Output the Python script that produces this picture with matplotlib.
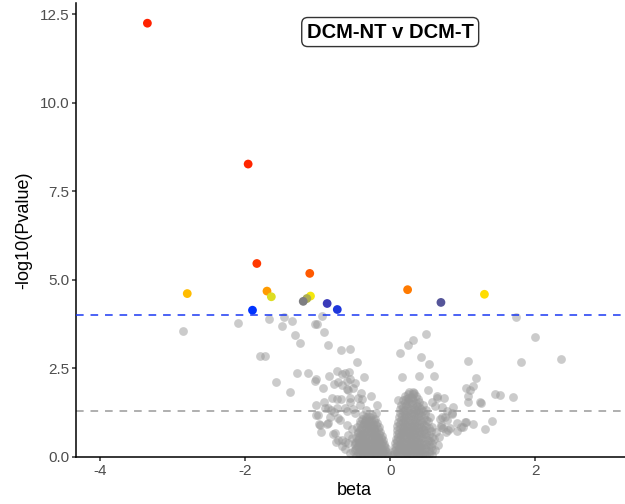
import numpy as np
import matplotlib
matplotlib.use("Agg")
import matplotlib.pyplot as plt
from matplotlib.colors import LinearSegmentedColormap

plt.rcParams['font.family'] = ['Liberation Sans', 'DejaVu Sans']
plt.rcParams['axes.unicode_minus'] = False

title = "DCM-NT v DCM-T"

# hits above the suggestive threshold (beta, -log10 p)
sig_beta = [-3.35, -1.96, -1.84, -1.11, 0.24, -1.70, -2.80, 1.30,
            -1.10, -1.64, -1.15, -1.20, 0.70, -0.87, -0.73, -1.90]
sig_logp = [12.25, 8.27, 5.46, 5.18, 4.72, 4.68, 4.61, 4.59,
            4.54, 4.52, 4.47, 4.39, 4.36, 4.33, 4.16, 4.14]

# scattered non-significant points, negative side
ns_left = [
    (-2.86, 3.54), (-2.10, 3.79), (-1.67, 3.89), (-1.47, 3.94), (-1.36, 3.83),
    (-1.49, 3.68), (-1.32, 3.45), (-1.24, 3.21), (-1.04, 3.75), (-1.01, 3.74),
    (-0.94, 3.98), (-0.91, 3.53), (-0.86, 3.16), (-0.68, 3.01), (-0.55, 3.04),
    (-0.46, 2.69), (-1.79, 2.85), (-1.73, 2.85), (-1.58, 2.11), (-1.38, 1.84),
    (-1.28, 2.36), (-1.14, 2.37), (-1.03, 2.21), (-1.04, 2.13), (-0.93, 1.95),
    (-0.84, 2.28), (-0.74, 2.41), (-0.67, 2.35), (-0.62, 2.37), (-0.57, 2.38),
    (-0.77, 2.05), (-0.66, 2.03), (-0.59, 1.91), (-0.52, 1.93), (-0.48, 2.08),
    (-0.55, 2.20), (-0.60, 2.15), (-0.36, 2.24), (-0.40, 1.80), (-0.27, 1.71),
    (-0.18, 1.45), (-0.19, 1.24), (-0.41, 1.46), (-0.44, 1.66), (-0.80, 1.66),
    (-0.74, 1.64), (-0.68, 1.62), (-1.03, 1.47), (-0.72, 2.12), (-0.58, 1.88),
    (-0.56, 1.65), (-0.39, 1.63), (-0.92, 1.55), (-0.90, 1.37), (-0.82, 1.32),
    (-0.74, 1.38), (-0.62, 1.37), (-0.51, 1.35), (-0.33, 1.32), (-0.99, 1.18),
    (-0.83, 1.13), (-0.72, 1.09), (-0.97, 0.90), (-0.86, 0.94), (-0.95, 0.71),
    (-0.76, 0.66), (-0.72, 0.47), (-0.63, 0.42), (-0.58, 0.61), (-0.53, 0.52),
    (-0.58, 0.38), (-0.49, 0.33), (-0.86, 1.38), (-0.77, 1.26), (-1.02, 1.17),
    (-0.98, 0.93), (-0.87, 0.92), (-0.79, 0.64), (-0.75, 0.42), (-0.66, 0.46),
    (-0.69, 1.04), (-0.60, 1.30), (-0.55, 1.55), (-0.49, 1.23), (-0.62, 0.22),
    (-0.55, 0.10), (-0.67, 0.30), (-0.53, 0.78), (-0.60, 0.90),
]

# scattered non-significant points, positive side
ns_right = [
    (0.49, 3.47), (0.32, 3.30), (0.25, 3.17), (0.13, 2.93), (0.42, 2.81),
    (0.54, 2.62), (0.16, 2.24), (0.40, 2.29), (0.61, 2.27), (1.07, 2.71),
    (1.18, 2.23), (1.05, 1.94), (1.10, 1.88), (1.14, 2.00), (1.07, 1.72),
    (1.44, 1.77), (1.51, 1.74), (1.69, 1.70), (1.25, 1.52), (1.40, 1.01),
    (1.31, 0.77), (1.73, 3.96), (2.00, 3.37), (1.80, 2.68), (2.35, 2.75),
    (0.87, 1.41), (0.92, 0.94), (1.01, 0.85), (1.14, 0.92), (1.05, 0.99),
    (0.74, 1.65), (0.64, 1.71), (0.58, 1.55), (0.62, 1.43), (0.85, 1.23),
    (0.78, 1.04), (0.70, 0.85), (0.80, 0.75), (1.07, 1.54), (1.24, 1.54),
    (0.78, 1.29), (0.85, 1.20), (0.72, 1.13), (0.69, 1.07), (1.03, 0.99),
    (0.97, 0.85), (0.92, 0.73), (0.82, 0.80), (0.77, 0.71), (0.73, 0.80),
    (0.70, 0.90), (0.32, 1.84), (0.25, 1.65), (0.11, 1.60), (0.52, 1.88),
    (0.64, 1.65), (0.71, 1.41), (0.75, 1.13), (0.57, 0.05), (0.62, 0.18),
    (0.66, 0.32), (0.68, 0.55), (0.63, 0.70),
]

# the dense core around beta = 0
core_left = [
    (-0.03, 0.03), (-0.08, 0.05), (-0.13, 0.02), (-0.19, 0.06), (-0.24, 0.03), (-0.30, 0.05), (-0.36, 0.02), (-0.41, 0.06), (-0.47, 0.03),
    (-0.05, 0.14), (-0.10, 0.12), (-0.16, 0.15), (-0.21, 0.11), (-0.27, 0.14), (-0.33, 0.12), (-0.39, 0.15), (-0.45, 0.12), (-0.51, 0.16),
    (-0.06, 0.25), (-0.12, 0.23), (-0.17, 0.26), (-0.23, 0.24), (-0.29, 0.22), (-0.35, 0.26), (-0.40, 0.23), (-0.47, 0.25),
    (-0.08, 0.37), (-0.13, 0.35), (-0.19, 0.38), (-0.25, 0.34), (-0.30, 0.37), (-0.37, 0.35), (-0.43, 0.38), (-0.49, 0.40),
    (-0.10, 0.48), (-0.15, 0.46), (-0.21, 0.49), (-0.27, 0.47), (-0.33, 0.45), (-0.39, 0.48), (-0.45, 0.46),
    (-0.12, 0.59), (-0.17, 0.57), (-0.23, 0.60), (-0.29, 0.58), (-0.35, 0.56), (-0.41, 0.60), (-0.47, 0.57),
    (-0.14, 0.71), (-0.20, 0.69), (-0.26, 0.72), (-0.32, 0.70), (-0.38, 0.68), (-0.44, 0.71),
    (-0.16, 0.83), (-0.22, 0.81), (-0.28, 0.84), (-0.34, 0.82), (-0.40, 0.80), (-0.46, 0.83),
    (-0.18, 0.95), (-0.24, 0.93), (-0.30, 0.96), (-0.36, 0.94), (-0.42, 0.92),
    (-0.21, 1.07), (-0.27, 1.05), (-0.33, 1.08), (-0.39, 1.06),
    (-0.25, 1.17), (-0.31, 1.15), (-0.37, 1.18),
    (-0.05, 0.08), (-0.11, 0.09), (-0.16, 0.07), (-0.22, 0.09), (-0.27, 0.08), (-0.33, 0.07), (-0.38, 0.09), (-0.44, 0.08),
    (-0.07, 0.19), (-0.13, 0.20), (-0.19, 0.18), (-0.24, 0.20), (-0.30, 0.19), (-0.36, 0.18), (-0.42, 0.20), (-0.48, 0.19),
    (-0.09, 0.31), (-0.15, 0.30), (-0.21, 0.32), (-0.27, 0.31), (-0.33, 0.30), (-0.39, 0.32), (-0.45, 0.31),
    (-0.11, 0.42), (-0.17, 0.43), (-0.23, 0.41), (-0.29, 0.42), (-0.35, 0.43), (-0.41, 0.41), (-0.47, 0.42),
    (-0.13, 0.53), (-0.19, 0.54), (-0.25, 0.52), (-0.31, 0.53), (-0.37, 0.54), (-0.43, 0.52),
    (-0.15, 0.65), (-0.21, 0.64), (-0.27, 0.66), (-0.33, 0.65), (-0.39, 0.64), (-0.45, 0.66),
    (-0.17, 0.77), (-0.23, 0.76), (-0.29, 0.78), (-0.35, 0.77), (-0.41, 0.76),
    (-0.20, 0.89), (-0.26, 0.88), (-0.32, 0.90), (-0.38, 0.89),
    (-0.23, 1.01), (-0.29, 1.00), (-0.35, 1.02), (-0.41, 1.01),
    (-0.28, 1.12), (-0.34, 1.11),
]
core_right = [
    (0.03, 0.04), (0.08, 0.02), (0.14, 0.05), (0.20, 0.03), (0.26, 0.06), (0.32, 0.02), (0.38, 0.05), (0.44, 0.03), (0.50, 0.06),
    (0.05, 0.15), (0.10, 0.13), (0.16, 0.16), (0.22, 0.12), (0.28, 0.15), (0.34, 0.13), (0.40, 0.16), (0.46, 0.12), (0.53, 0.15),
    (0.06, 0.27), (0.12, 0.25), (0.18, 0.28), (0.24, 0.24), (0.30, 0.27), (0.36, 0.25), (0.42, 0.28), (0.48, 0.24), (0.56, 0.27),
    (0.07, 0.39), (0.13, 0.37), (0.19, 0.40), (0.25, 0.36), (0.31, 0.39), (0.37, 0.37), (0.43, 0.40), (0.50, 0.36), (0.58, 0.39),
    (0.08, 0.51), (0.14, 0.49), (0.20, 0.52), (0.26, 0.48), (0.32, 0.51), (0.38, 0.49), (0.44, 0.52), (0.52, 0.48), (0.60, 0.51),
    (0.09, 0.63), (0.15, 0.61), (0.21, 0.64), (0.27, 0.60), (0.33, 0.63), (0.39, 0.61), (0.46, 0.64), (0.54, 0.60),
    (0.10, 0.75), (0.16, 0.73), (0.22, 0.76), (0.28, 0.72), (0.34, 0.75), (0.40, 0.73), (0.47, 0.76), (0.56, 0.72),
    (0.10, 0.87), (0.17, 0.85), (0.23, 0.88), (0.29, 0.84), (0.35, 0.87), (0.42, 0.85), (0.49, 0.88), (0.58, 0.84),
    (0.11, 0.99), (0.18, 0.97), (0.24, 1.00), (0.30, 0.96), (0.37, 0.99), (0.44, 0.97), (0.52, 1.00),
    (0.12, 1.11), (0.19, 1.09), (0.25, 1.12), (0.31, 1.08), (0.38, 1.11), (0.46, 1.09), (0.55, 1.12),
    (0.13, 1.23), (0.20, 1.21), (0.27, 1.24), (0.33, 1.20), (0.40, 1.23), (0.48, 1.21),
    (0.14, 1.35), (0.21, 1.33), (0.28, 1.36), (0.35, 1.32), (0.42, 1.35), (0.50, 1.33),
    (0.15, 1.47), (0.22, 1.45), (0.30, 1.48), (0.37, 1.44), (0.45, 1.47),
    (0.17, 1.59), (0.24, 1.57), (0.32, 1.60), (0.40, 1.56),
    (0.20, 1.71), (0.28, 1.69), (0.36, 1.72),
    (0.26, 1.83), (0.33, 1.81),
    (0.05, 0.08), (0.11, 0.09), (0.17, 0.07), (0.23, 0.09), (0.29, 0.08), (0.35, 0.09), (0.41, 0.07), (0.47, 0.09), (0.53, 0.08),
    (0.07, 0.20), (0.13, 0.21), (0.19, 0.19), (0.25, 0.20), (0.31, 0.21), (0.37, 0.19), (0.43, 0.20), (0.50, 0.21), (0.57, 0.19),
    (0.09, 0.32), (0.15, 0.33), (0.21, 0.31), (0.27, 0.32), (0.33, 0.33), (0.39, 0.31), (0.45, 0.32), (0.53, 0.33),
    (0.10, 0.44), (0.16, 0.45), (0.22, 0.43), (0.28, 0.44), (0.34, 0.45), (0.40, 0.43), (0.47, 0.44), (0.55, 0.45),
    (0.11, 0.56), (0.17, 0.57), (0.23, 0.55), (0.29, 0.56), (0.35, 0.57), (0.41, 0.55), (0.49, 0.56), (0.57, 0.57),
    (0.12, 0.68), (0.18, 0.69), (0.24, 0.67), (0.30, 0.68), (0.36, 0.69), (0.43, 0.67), (0.50, 0.68),
    (0.13, 0.80), (0.19, 0.81), (0.25, 0.79), (0.31, 0.80), (0.38, 0.81), (0.45, 0.79), (0.53, 0.80),
    (0.14, 0.92), (0.20, 0.93), (0.26, 0.91), (0.33, 0.92), (0.40, 0.93), (0.47, 0.91),
    (0.15, 1.04), (0.21, 1.05), (0.27, 1.03), (0.34, 1.04), (0.41, 1.05), (0.49, 1.03),
    (0.16, 1.16), (0.22, 1.17), (0.29, 1.15), (0.36, 1.16), (0.43, 1.17),
    (0.17, 1.28), (0.24, 1.29), (0.31, 1.27), (0.38, 1.28), (0.45, 1.29),
    (0.18, 1.40), (0.25, 1.41), (0.33, 1.39), (0.40, 1.40),
    (0.20, 1.52), (0.27, 1.53), (0.35, 1.51),
    (0.22, 1.64), (0.30, 1.65), (0.38, 1.63),
    (0.24, 1.76), (0.31, 1.77),
]

suggestive = 4.0
nominal = -np.log10(0.05)
xticks = [-4, -2, 0, 2]
yticks = [0, 2.5, 5, 7.5, 10, 12.5]

ns = np.array(ns_left + ns_right + core_left + core_right)

fig = plt.figure(figsize=(6.25, 5.04), dpi=100)
ax = fig.add_axes([0.1216, 0.0938, 0.891, 0.9002])

ax.scatter(ns[:, 0], ns[:, 1], s=40, color="#999999", alpha=0.5,
           linewidths=0, zorder=2)

# colour the hits by rank, red (strongest) -> yellow -> grey -> blue
hit_cmap = LinearSegmentedColormap.from_list("hits", [
    (0.0, "#FF2200"), (0.1, "#FF2800"), (0.33, "#FF9900"), (0.5, "#FFEE00"),
    (0.6, "#DDDD22"), (0.73, "#808080"), (0.8, "#555599"), (0.87, "#3A3ABB"),
    (1.0, "#0033FF")])
order = np.argsort(-np.array(sig_logp))
rank = np.empty(len(order))
rank[order] = np.arange(len(order))
ax.scatter(sig_beta, sig_logp, s=40, c=rank / (len(order) - 1), cmap=hit_cmap,
           vmin=0, vmax=1, linewidths=0, zorder=3)

ax.axhline(suggestive, color="#1A38F2", lw=1.1, ls=(0, (5, 4.5)), zorder=4)
ax.axhline(nominal, color="#9A9A9A", lw=1.1, ls=(0, (5, 4.5)), zorder=1)

ax.text(0, 12, title, ha="center", va="center", fontsize=14.5,
        fontweight="bold", zorder=5,
        bbox=dict(boxstyle="round,pad=0.25,rounding_size=0.3", fc="white",
                  ec="#333333", lw=1))

ax.set_xlim(-4.335, 3.348)
ax.set_ylim(0, 12.82)
ax.set_xticks(xticks)
ax.set_xticklabels([str(t) for t in xticks])
ax.set_yticks(yticks)
ax.set_yticklabels([f"{t:.1f}" for t in yticks])

for side in ["top", "right"]:
    ax.spines[side].set_visible(False)
for side in ["left", "bottom"]:
    ax.spines[side].set_linewidth(1.1)
    ax.spines[side].set_color("black")
ax.tick_params(length=2.7, width=1.1, color="#333333", labelcolor="#4D4D4D",
               labelsize=11, pad=2.2)

ax.set_xlabel("beta", fontsize=13, labelpad=3)
ax.set_ylabel("-log10(Pvalue)", fontsize=13, labelpad=5)

fig.savefig("out.png", dpi=100)
